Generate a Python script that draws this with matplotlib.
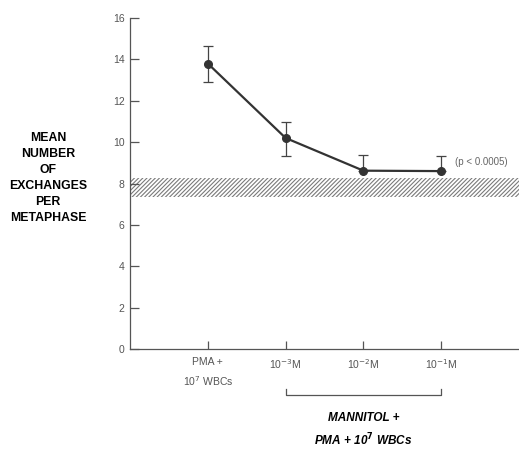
import matplotlib
matplotlib.use('Agg')
import matplotlib.pyplot as plt

# Data
categories = ['PMA +\n10$^{7}$ WBCs', '10$^{-3}$M', '10$^{-2}$M', '10$^{-1}$M']
means = [13.8, 10.2, 8.62, 8.6]
err_low = [0.9, 0.85, 0.0, 0.0]
err_high = [0.85, 0.75, 0.75, 0.72]
band_low, band_high = 7.35, 8.25   # control range (hatched band)
y_ticks = [0, 2, 4, 6, 8, 10, 12, 14, 16]

plt.rcParams['font.family'] = ['Liberation Sans', 'DejaVu Sans']
plt.rcParams['hatch.linewidth'] = 0.8
plt.rcParams['hatch.color'] = '#7a7a7a'

fig = plt.figure(figsize=(5.19, 4.49), dpi=100)
ax = fig.add_axes([0.2505, 0.2227, 0.7495, 0.7372])

x = list(range(len(categories)))

# hatched control band
ax.fill_between([-1, 4], band_low, band_high, facecolor='none',
                edgecolor='#7a7a7a', hatch='////////', linewidth=0)

ax.errorbar(x, means, yerr=[err_low, err_high], fmt='o-', color='#333333',
            lw=1.6, ms=5.5, ecolor='#444444', elinewidth=0.9, capsize=3.5,
            capthick=0.9, zorder=3)

ax.text(3.18, 9.05, '(p < 0.0005)', fontsize=7, color='#666666',
        va='center', ha='left', clip_on=False)

ax.set_xlim(-1, 4)
ax.set_ylim(0, 16)
ax.set_yticks(y_ticks)
ax.set_xticks(x)
ax.set_xticklabels(categories, fontsize=7.5, color='#555555', linespacing=1.55)
ax.tick_params(axis='y', direction='in', length=6.5, width=0.9,
               labelsize=7.5, labelcolor='#555555', color='#555555', pad=4)
ax.tick_params(axis='x', direction='in', length=6, width=0.9,
               color='#555555', pad=6)
for s in ['top', 'right']:
    ax.spines[s].set_visible(False)
for s in ['left', 'bottom']:
    ax.spines[s].set_color('#555555')
    ax.spines[s].set_linewidth(0.9)

# y label at left
fig.text(48 / 519, 1 - 178 / 449,
         'MEAN\nNUMBER\nOF\nEXCHANGES\nPER\nMETAPHASE',
         ha='center', va='center', fontsize=8.8, fontweight='bold',
         linespacing=1.45, color='black')

# bracket under mannitol groups
ax.plot([1, 1, 3, 3], [-1.93, -2.22, -2.22, -1.93], color='#555555',
        lw=0.9, clip_on=False)

ax.text(2, -3.35, 'MANNITOL +', ha='center', va='center', fontsize=8.5,
        fontweight='bold', style='italic', clip_on=False)
ax.text(2, -4.42, 'PMA + 10$^{\\mathbf{7}}$ WBCs', ha='center', va='center',
        fontsize=8.5, fontweight='bold', style='italic', clip_on=False)

fig.savefig('out.png', dpi=100)
